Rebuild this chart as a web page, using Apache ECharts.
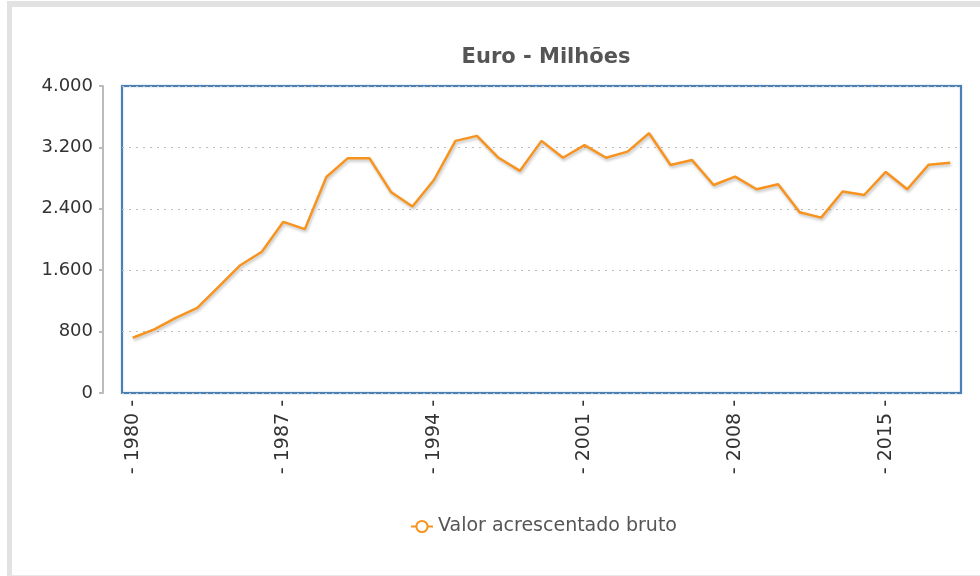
<!DOCTYPE html>
<html>
<head>
<meta charset="utf-8">
<script src="https://cdn.jsdelivr.net/npm/echarts@6/dist/echarts.min.js"></script>
<style>
  html, body { margin: 0; padding: 0; background: #fff; }
  #frame { position: absolute; left: 7px; top: 1px; width: 1000px; height: 568px;
    border-top: 6px solid #e2e2e2; border-left: 5px solid #e2e2e2; border-bottom: 1px solid #e8e8e8; }
  #main { position: absolute; left: 0; top: 0; width: 980px; height: 576px; }
</style>
</head>
<body>
<div id="frame"></div>
<div id="main"></div>
<script>
// anos
var years = ['1980','1981','1982','1983','1984','1985','1986','1987','1988','1989',
  '1990','1991','1992','1993','1994','1995','1996','1997','1998','1999',
  '2000','2001','2002','2003','2004','2005','2006','2007','2008','2009',
  '2010','2011','2012','2013','2014','2015','2016','2017','2018'];
// Valor acrescentado bruto (milhões de euro)
var vab = [720, 830, 980, 1110, 1385, 1665, 1840, 2230, 2135, 2815,
  3060, 3060, 2620, 2430, 2775, 3285, 3350, 3065, 2895, 3285,
  3065, 3230, 3065, 3145, 3385, 2970, 3035, 2710, 2820, 2655,
  2720, 2355, 2285, 2625, 2580, 2880, 2655, 2975, 3000];
var yTicks = [0, 800, 1600, 2400, 3200, 4000];

var myChart = echarts.init(document.getElementById('main'));
myChart.setOption({
  animation: false,
  backgroundColor: 'transparent',
  textStyle: { fontFamily: 'DejaVu Sans' },
  title: {
    text: 'Euro - Milhões',
    left: 541,
    top: 42,
    textAlign: 'center',
    textStyle: { fontFamily: 'DejaVu Sans', fontSize: 21, fontWeight: 'bold', color: '#555' }
  },
  legend: {
    left: 405,
    top: 512,
    itemWidth: 22,
    itemHeight: 14,
    itemGap: 10,
    textStyle: { fontFamily: 'DejaVu Sans', fontSize: 19, color: '#555' },
    data: ['Valor acrescentado bruto']
  },
  grid: {
    left: 122,
    right: 19,
    top: 86,
    bottom: 183,
    show: true,
    borderColor: '#4a80b4',
    borderWidth: 2,
    shadowColor: 'rgba(74,128,180,0.45)',
    shadowBlur: 2
  },
  xAxis: {
    type: 'category',
    data: years,
    boundaryGap: true,
    axisLine: { show: false },
    axisTick: { show: false },
    axisLabel: {
      interval: 6,
      rotate: 90,
      margin: 7,
      color: '#333',
      fontFamily: 'DejaVu Sans',
      fontSize: 19,
      formatter: function (v) { return '- ' + v + ' -'; }
    }
  },
  yAxis: {
    type: 'value',
    min: yTicks[0],
    max: yTicks[yTicks.length - 1],
    interval: 800,
    offset: 19,
    axisLine: { show: true, lineStyle: { color: '#bbb', width: 2 } },
    axisTick: { show: true, length: 4, lineStyle: { color: '#bbb', width: 2 } },
    axisLabel: {
      margin: 10,
      padding: [4, 0, 0, 0],
      color: '#333',
      fontFamily: 'DejaVu Sans',
      fontSize: 18,
      formatter: function (v) { return v.toString().replace(/\B(?=(\d{3})+(?!\d))/g, '.'); }
    },
    splitLine: {
      show: true,
      lineStyle: { color: '#bdbdbd', type: [2, 5], width: 1 }
    }
  },
  series: [{
    name: 'Valor acrescentado bruto',
    type: 'line',
    data: vab,
    color: '#f7931e',
    symbol: 'emptyCircle',
    symbolSize: 11,
    showSymbol: false,
    lineStyle: {
      width: 2.5,
      color: '#f7931e',
      shadowColor: 'rgba(0,0,0,0.25)',
      shadowBlur: 3,
      shadowOffsetX: 1,
      shadowOffsetY: 2
    }
  }]
});
</script>
</body>
</html>
